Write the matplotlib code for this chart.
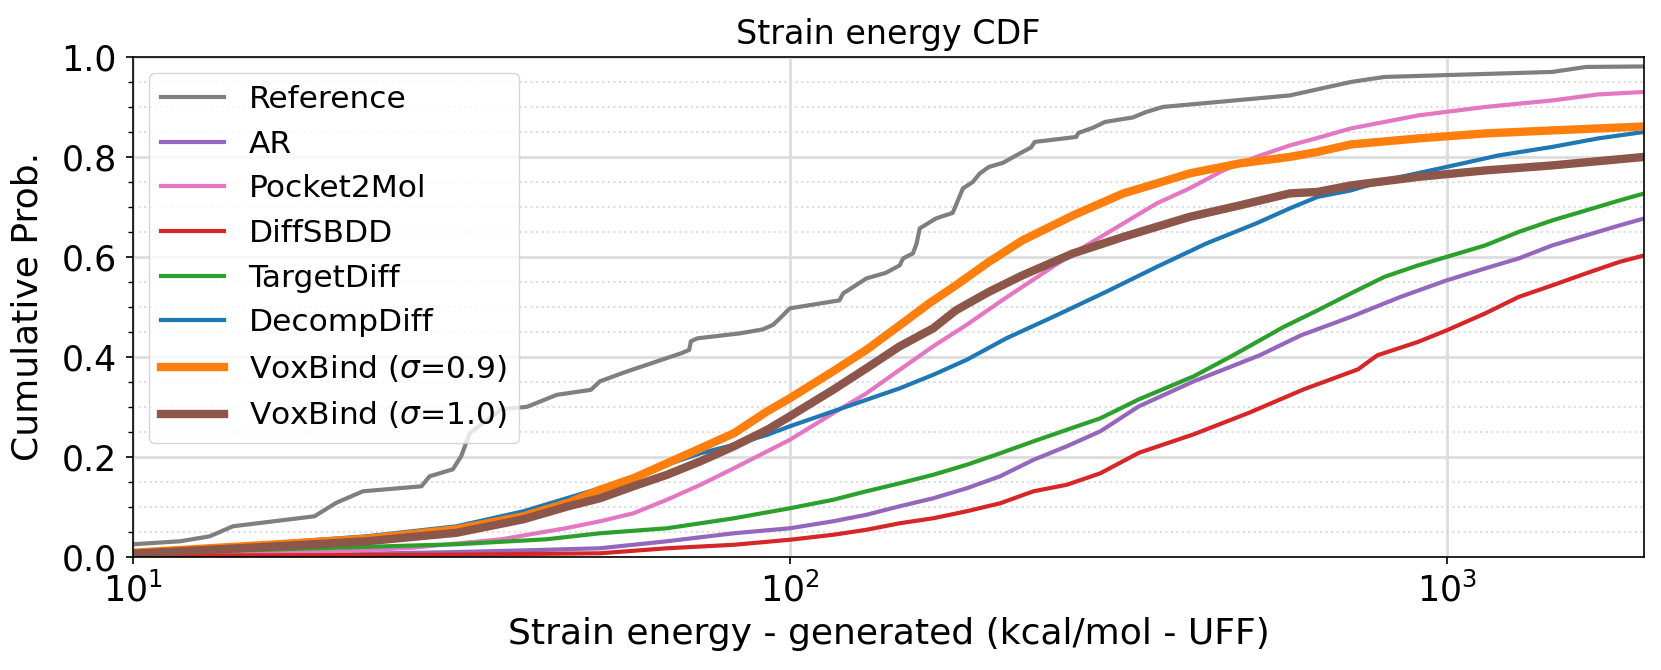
import matplotlib.pyplot as plt
from matplotlib.ticker import MultipleLocator, NullLocator

# ECDF curves (x = strain energy, y = cumulative prob.)
ref_x = [10, 11.8, 13.1, 14.2, 18.9, 20.4, 22.4, 27.5, 28.3, 30.7, 31.6, 32.6, 34.2, 36.4,
         39.8, 44.2, 49.8, 51.4, 56.3, 68.3, 70.3, 70.7, 72.3, 84, 91, 94.3, 96.6, 100,
         119, 120.6, 130.9, 140, 147, 148.8, 154, 156, 157.7, 167, 177, 183.5, 190, 194.7,
         201, 211, 224, 233, 236, 273, 275, 289, 302, 333, 349, 370, 577, 715, 804, 905,
         1448, 1630, 2000]
ref_y = [0.025, 0.031, 0.041, 0.061, 0.081, 0.108, 0.131, 0.141, 0.161, 0.175, 0.201, 0.248,
         0.268, 0.295, 0.30, 0.324, 0.334, 0.351, 0.370, 0.407, 0.414, 0.431, 0.437, 0.447,
         0.455, 0.464, 0.477, 0.497, 0.513, 0.527, 0.557, 0.568, 0.583, 0.597, 0.607, 0.627,
         0.657, 0.677, 0.688, 0.737, 0.75, 0.767, 0.78, 0.788, 0.807, 0.819, 0.83, 0.84,
         0.848, 0.858, 0.87, 0.879, 0.89, 0.90, 0.923, 0.95, 0.96, 0.962, 0.97, 0.98, 0.981]

ar_x = [10, 20, 30, 40, 51.4, 65, 82.2, 100, 116.4, 130.8, 147, 165.3, 185.9, 209, 235, 264,
        297, 340, 412, 519, 600, 715, 851, 1000, 1145, 1288, 1448, 1630, 1833, 2000]
ar_y = [0.003, 0.005, 0.009, 0.013, 0.017, 0.031, 0.047, 0.057, 0.071, 0.084, 0.101, 0.117,
        0.137, 0.161, 0.194, 0.221, 0.251, 0.301, 0.351, 0.403, 0.443, 0.48, 0.52, 0.553,
        0.577, 0.597, 0.623, 0.643, 0.663, 0.677]

p2m_x = [10, 20, 26.6, 36.4, 46, 51.4, 57.8, 65, 73.1, 82.2, 92.4, 100, 116.4, 130.8, 147,
         165.3, 185.9, 211, 226, 270, 322, 362, 406, 457, 513, 577, 636, 715, 905, 1145, 1448,
         1700, 2000]
p2m_y = [0.004, 0.01, 0.018, 0.035, 0.058, 0.071, 0.087, 0.114, 0.144, 0.177, 0.211, 0.234,
         0.287, 0.327, 0.374, 0.421, 0.464, 0.514, 0.54, 0.607, 0.667, 0.707, 0.737, 0.773,
         0.80, 0.823, 0.838, 0.857, 0.883, 0.90, 0.913, 0.925, 0.93]

dsb_x = [10, 30, 51.4, 65, 82.2, 100, 116.4, 130.8, 147, 165.3, 185.9, 209, 235, 264, 297,
         340, 412, 500, 606, 733, 784, 905, 1000, 1145, 1288, 1448, 1630, 1833, 2000]
dsb_y = [0.002, 0.004, 0.007, 0.017, 0.024, 0.034, 0.044, 0.054, 0.067, 0.077, 0.091, 0.107,
         0.131, 0.144, 0.167, 0.208, 0.245, 0.288, 0.335, 0.375, 0.403, 0.43, 0.453, 0.487,
         0.52, 0.543, 0.567, 0.59, 0.603]

td_x = [10, 14, 31.1, 42.6, 51.4, 65, 82.2, 100, 116.4, 130.8, 147, 165.3, 185.9, 209, 235,
        264, 297, 340, 412, 473, 565, 636, 715, 804, 905, 1000, 1145, 1288, 1448, 1630,
        1833, 2000]
td_y = [0.008, 0.012, 0.025, 0.035, 0.047, 0.057, 0.077, 0.097, 0.114, 0.131, 0.147, 0.164,
        0.184, 0.207, 0.231, 0.254, 0.277, 0.315, 0.361, 0.403, 0.46, 0.493, 0.527, 0.56,
        0.583, 0.60, 0.623, 0.65, 0.673, 0.693, 0.713, 0.727]

dd_x = [10, 16.6, 22.7, 31.1, 39.3, 46, 51.4, 57.8, 65, 73.1, 82.2, 92.4, 100, 116.4, 130.8,
        147, 165.3, 185.9, 213.6, 254.6, 303, 362, 431, 513, 577, 636, 715, 804, 1000, 1200,
        1448, 1700, 2000]
dd_y = [0.008, 0.028, 0.041, 0.061, 0.091, 0.118, 0.137, 0.161, 0.184, 0.207, 0.224, 0.244,
        0.261, 0.291, 0.314, 0.337, 0.364, 0.394, 0.437, 0.483, 0.53, 0.58, 0.627, 0.667,
        0.697, 0.72, 0.733, 0.753, 0.78, 0.803, 0.82, 0.837, 0.85]

vb09_x = [10, 16.6, 22.7, 31.1, 39.3, 46, 51.4, 57.8, 65, 73.1, 82.2, 92.4, 100, 116.4,
          130.8, 147, 163, 179, 201, 226, 270, 322, 362, 406, 484, 577, 636, 715, 905, 1145,
          1448, 2000]
vb09_y = [0.008, 0.025, 0.036, 0.055, 0.081, 0.108, 0.134, 0.157, 0.187, 0.217, 0.247,
          0.291, 0.317, 0.371, 0.414, 0.463, 0.507, 0.543, 0.59, 0.633, 0.683, 0.727, 0.747,
          0.767, 0.787, 0.80, 0.81, 0.825, 0.837, 0.847, 0.853, 0.861]

vb10_x = [10, 16.6, 22.7, 31.1, 39.3, 46, 51.4, 57.8, 65, 73.1, 82.2, 92.4, 100, 116.4,
          130.8, 147, 165.3, 179, 201, 226, 270, 322, 406, 484, 577, 636, 715, 905, 1145,
          1448, 2000]
vb10_y = [0.006, 0.021, 0.031, 0.048, 0.075, 0.101, 0.117, 0.141, 0.164, 0.191, 0.221,
          0.254, 0.281, 0.334, 0.377, 0.421, 0.457, 0.493, 0.53, 0.563, 0.607, 0.64, 0.68,
          0.703, 0.727, 0.73, 0.743, 0.76, 0.773, 0.783, 0.80]

series = [
    ('Reference', ref_x, ref_y, 'tab:gray', 3),
    ('AR', ar_x, ar_y, 'tab:purple', 3),
    ('Pocket2Mol', p2m_x, p2m_y, 'tab:pink', 3),
    ('DiffSBDD', dsb_x, dsb_y, 'tab:red', 3),
    ('TargetDiff', td_x, td_y, 'tab:green', 3),
    ('DecompDiff', dd_x, dd_y, 'tab:blue', 3),
    (r'VoxBind ($\sigma$=0.9)', vb09_x, vb09_y, 'tab:orange', 6),
    (r'VoxBind ($\sigma$=1.0)', vb10_x, vb10_y, 'tab:brown', 6),
]

plt.rcParams['font.size'] = 22

fig, ax = plt.subplots(figsize=(16.61, 6.70), dpi=100)
fig.subplots_adjust(left=0.080, right=0.990, bottom=0.169, top=0.915)

for label, x, y, color, lw in series:
    ax.plot(x, y, label=label, color=color, linewidth=lw)

ax.set_xscale('log')
ax.set_xlim(10, 2000)
ax.set_ylim(0, 1)
ax.xaxis.set_minor_locator(NullLocator())
ax.yaxis.set_major_locator(MultipleLocator(0.2))
ax.yaxis.set_minor_locator(MultipleLocator(0.05))
ax.tick_params(axis='both', which='major', labelsize=25, length=5, width=1.2, pad=6.5)
ax.tick_params(axis='y', which='minor', length=3.5, width=1)
for s in ax.spines.values():
    s.set_linewidth(1.2)

ax.grid(True, which='major', color='#dddddd', linewidth=2)
ax.grid(True, which='minor', axis='y', color='#dddddd', linestyle=':', linewidth=1.5)
ax.set_axisbelow(True)

ax.set_title('Strain energy CDF', fontsize=24, pad=9)
ax.set_xlabel('Strain energy - generated (kcal/mol - UFF)', fontsize=26, labelpad=6)
ax.set_ylabel('Cumulative Prob.', fontsize=26, labelpad=12)
ax.legend(loc='upper left', fontsize=22.5)

plt.savefig('out.png')
